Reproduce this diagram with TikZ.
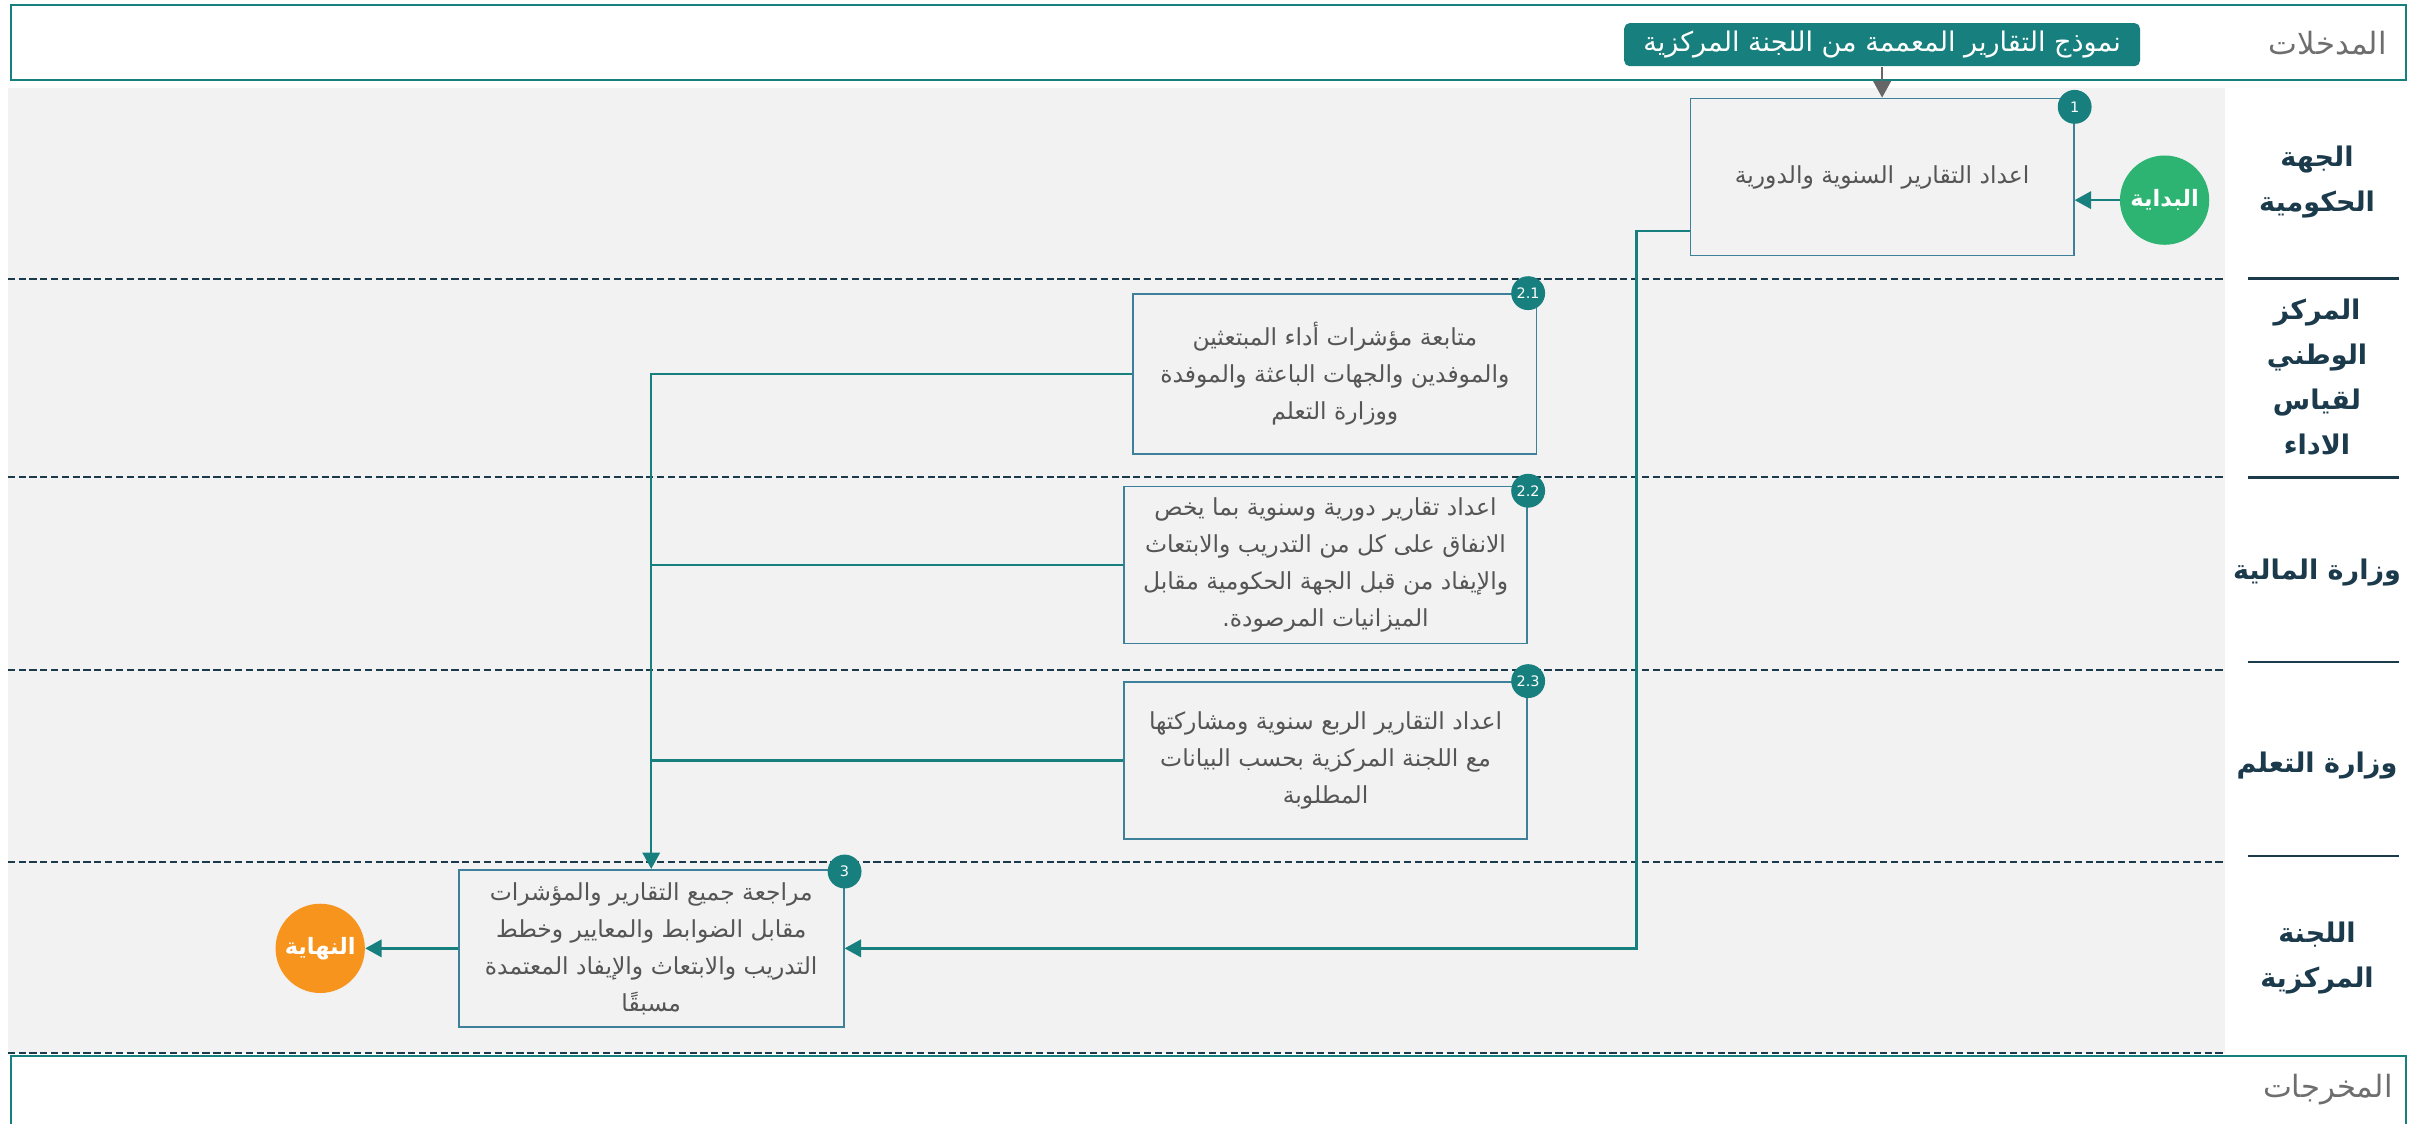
\documentclass[tikz,border=0pt]{standalone}
\usepackage{fontspec}
\setmainfont{DejaVu Sans}
\newfontfamily\arabicfont[Script=Arabic]{DejaVu Sans}
\TeXXeTstate=1
\usetikzlibrary{positioning,arrows.meta,calc}
\newcommand{\ar}[1]{{\arabicfont\beginR #1\endR}}

\definecolor{tealc}{HTML}{17807E}
\definecolor{boxline}{HTML}{3E7F9A}
\definecolor{navyc}{HTML}{1B3A4B}
\definecolor{lanebg}{HTML}{F2F2F2}
\definecolor{txtgray}{HTML}{555555}
\definecolor{startc}{HTML}{2DB472}
\definecolor{endc}{HTML}{F7941D}

\begin{document}
\begin{tikzpicture}[
  x=0.03cm,y=-0.03cm,>={Triangle[length=3.2mm,width=3.4mm]},
  task/.style={draw=boxline,line width=1pt,fill=lanebg,minimum height=3.06cm,align=center,text=txtgray,font=\fontsize{13}{20.5}\selectfont},
  badge/.style={circle,fill=tealc,text=white,minimum size=0.66cm,inner sep=0pt,font=\footnotesize},
  term/.style={circle,minimum size=1.74cm,inner sep=0pt,text=white,font=\fontsize{12.5}{15}\selectfont\bfseries},
  lane/.style={align=center,text=navyc,font=\fontsize{15}{25}\selectfont\bfseries},
  side/.style={text=txtgray!85,font=\fontsize{17}{20}\selectfont},
  flow/.style={->,line width=1.3pt,tealc},
  sep/.style={navyc,line width=1.2pt,dash pattern=on 4pt off 2pt},
]
\useasboundingbox (0,0) rectangle (1568,730);

% ===== frame: inputs, lanes, outputs =====
\draw[tealc,line width=1.2pt] (7,3) rectangle (1563,52);
\fill[lanebg] (5,57) rectangle (1445,684);
\foreach \yy in {181,310,435,560,684} \draw[sep] (5,\yy) -- (1445,\yy);
\foreach \yy in {181,310,430,556} \draw[navyc,line width=1.6pt] (1460,\yy) -- (1558,\yy);
\draw[tealc,line width=1.2pt] (7,740) -- (7,686) -- (1563,686) -- (1563,740);
\node[side] (inlbl) at (1512,28) {\ar{المدخلات}};
\node[side] (outlbl) at (1512,708) {\ar{المخرجات}};

% lane titles
\node[lane] (l1) at (1505,118) {\ar{الجهة}\\\ar{الحكومية}};
\node[lane] (l2) at (1505,245) {\ar{المركز}\\\ar{الوطني}\\\ar{لقياس}\\\ar{الاداء}};
\node[lane] (l3) at (1505,372) {\ar{وزارة المالية}};
\node[lane] (l4) at (1505,497) {\ar{وزارة التعلم}};
\node[lane] (l5) at (1505,622) {\ar{اللجنة}\\\ar{المركزية}};

% ===== tasks =====
\node[fill=tealc,text=white,rounded corners=3pt,minimum width=10.05cm,minimum height=0.84cm,
      font=\fontsize{15}{18}\selectfont] (form) at (1222.5,29) {\ar{نموذج التقارير المعممة من اللجنة المركزية}};
\node[task,minimum width=7.47cm] (b1) at (1222.5,115) {\ar{اعداد التقارير السنوية والدورية}};
\node[task,minimum width=7.86cm,minimum height=3.12cm] (b21) at (867,243)
  {\ar{متابعة مؤشرات أداء المبتعثين}\\\ar{والموفدين والجهات الباعثة والموفدة}\\\ar{ووزارة التعلم}};
\node[task,minimum width=7.86cm] (b22) at (861,367)
  {\ar{اعداد تقارير دورية وسنوية بما يخص}\\\ar{الانفاق على كل من التدريب والابتعاث}\\\ar{والإيفاد من قبل الجهة الحكومية مقابل}\\\ar{الميزانيات المرصودة.}};
\node[task,minimum width=7.86cm] (b23) at (861,494)
  {\ar{اعداد التقارير الربع سنوية ومشاركتها}\\\ar{مع اللجنة المركزية بحسب البيانات}\\\ar{المطلوبة}};
\node[task,minimum width=7.5cm] (b3) at (423,616)
  {\ar{مراجعة جميع التقارير والمؤشرات}\\\ar{مقابل الضوابط والمعايير وخطط}\\\ar{التدريب والابتعاث والإيفاد المعتمدة}\\\ar{مسبقًا}};

\node[badge] (n1) at ([yshift=-0.18cm]b1.north east) {1};
\node[badge] (n21) at ([xshift=-0.18cm]b21.north east) {2.1};
\node[badge] (n22) at ([yshift=-0.1cm]b22.north east) {2.2};
\node[badge] (n23) at (b23.north east) {2.3};
\node[badge] (n3) at ([yshift=-0.05cm]b3.north east) {3};

\node[term,fill=startc] (start) at (1406,130) {\ar{البداية}};
\node[term,fill=endc] (end) at (208,616) {\ar{النهاية}};

% ===== connectors =====
\draw[->,line width=1.2pt,gray!80!black] (form) -- (b1);
\draw[flow] (start) -- (b1.east |- start);
\coordinate (turn) at (1063,616);
\draw[flow] ([yshift=-1.05cm]b1.west) -| (turn) -- (b3.east);
\draw[flow] (b21.west) -| (b3.north);
\draw[flow,-] (b22.west) -- (b22.west -| b3.north);
\draw[flow,-] (b23.west) -- (b23.west -| b3.north);
\draw[flow] (b3.west) -- (end);
\end{tikzpicture}
\end{document}
